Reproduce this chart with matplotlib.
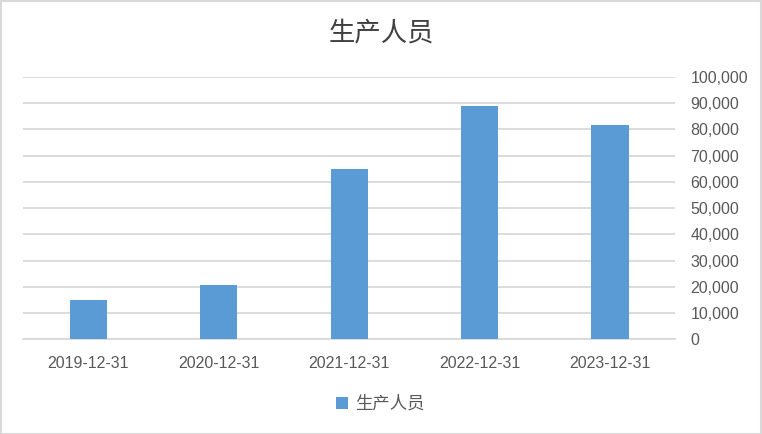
import numpy as np
import matplotlib
matplotlib.use('Agg')
import matplotlib.pyplot as plt
from matplotlib.patches import Rectangle

# data
dates = ['2019-12-31', '2020-12-31', '2021-12-31', '2022-12-31', '2023-12-31']
staff = [15000, 20700, 65100, 88900, 81600]
series_name = '生产人员'
yticks = [0, 10000, 20000, 30000, 40000, 50000, 60000, 70000, 80000, 90000, 100000]

plt.rcParams['font.family'] = ['Liberation Sans', 'Noto Sans CJK SC', 'DejaVu Sans']
text_col = '#595959'
grid_col = '#d9d9d9'
bar_col = '#5b9bd5'

W, H = 762, 434
fig = plt.figure(figsize=(W / 100, H / 100), dpi=100)

# axes in pixel coords of the reference
left, right, top, bottom = 23.25, 675.25, 77.0, 339.3
ax = fig.add_axes([left / W, 1 - bottom / H, (right - left) / W, (bottom - top) / H])

x = np.arange(len(dates))
bars = ax.bar(x, staff, width=0.285, color=bar_col, zorder=3, label=series_name)

ax.set_xlim(-0.5, len(dates) - 0.5)
ax.set_ylim(0, 100000)
ax.set_yticks(yticks)
ax.set_yticklabels(['{:,}'.format(v) for v in yticks])
ax.set_xticks(x)
ax.set_xticklabels(dates)

ax.yaxis.tick_right()
ax.yaxis.grid(True, color=grid_col, linewidth=1.3, zorder=0)
for s in ['top', 'left', 'right']:
    ax.spines[s].set_visible(False)
ax.spines['bottom'].set_color(grid_col)
ax.spines['bottom'].set_linewidth(1.3)
ax.tick_params(axis='both', length=0, colors=text_col, labelsize=11.5)
ax.tick_params(axis='y', pad=11)
ax.tick_params(axis='x', pad=12)
for lab in ax.get_yticklabels():
    lab.set_horizontalalignment('left')

# title
fig.text(381 / W, 1 - 33 / H, series_name, ha='center', va='center',
         fontsize=19, color='#404040', family=['Noto Sans CJK SC', 'DejaVu Sans'])

# legend
leg = fig.legend(handles=[bars], labels=[series_name], loc='center',
                 bbox_to_anchor=(380 / W, 1 - 404 / H), frameon=False,
                 handlelength=0.7, handleheight=0.7, handletextpad=0.4,
                 prop={'family': ['Noto Sans CJK SC', 'DejaVu Sans'], 'size': 12.5})
for t in leg.get_texts():
    t.set_color(text_col)

# chart border
fig.patches.append(Rectangle((0.5 / W, 0.5 / H), 1 - 1.5 / W, 1 - 1.5 / H,
                             transform=fig.transFigure, fill=False,
                             edgecolor=grid_col, linewidth=1.5))

fig.savefig('out.png', dpi=100)
